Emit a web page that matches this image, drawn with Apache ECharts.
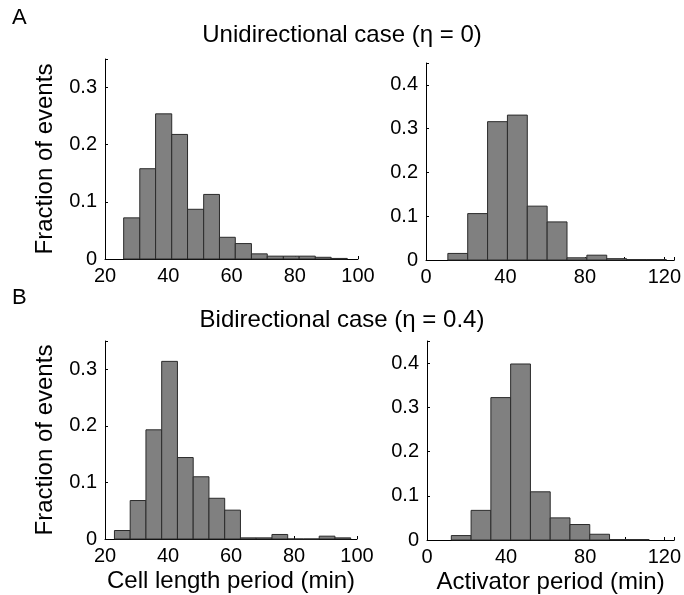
<!DOCTYPE html>
<html>
<head>
<meta charset="utf-8">
<script src="https://cdn.jsdelivr.net/npm/echarts@6/dist/echarts.min.js"></script>
<style>
  html, body { margin: 0; padding: 0; background: #fff; }
  #main { width: 684px; height: 595px; }
</style>
</head>
<body>
<div id="main"></div>
<script>
// bin edges (min) and fractions
var cellUniEdges = [25.9, 31.0, 36.0, 41.1, 46.1, 51.2, 56.2, 61.2, 66.3, 71.3, 76.4, 81.4, 86.5, 91.5, 96.6];
var cellUniFrac = [0.072, 0.158, 0.254, 0.218, 0.087, 0.113, 0.038, 0.027, 0.009, 0.005, 0.005, 0.005, 0.003, 0.001];

var actUniEdges = [11, 21, 31, 41, 51, 61, 71, 81, 91, 101, 111, 121];
var actUniFrac = [0.015, 0.106, 0.316, 0.331, 0.123, 0.087, 0.005, 0.011, 0.003, 0.001, 0.001];

var cellBiEdges = [23, 28, 33, 38, 43, 48, 53, 58, 63, 68, 73, 78, 83, 88, 93, 98];
var cellBiFrac = [0.015, 0.068, 0.193, 0.314, 0.144, 0.110, 0.072, 0.051, 0.002, 0.002, 0.008, 0, 0, 0.005, 0.002];

var actBiEdges = [12.3, 22.3, 32.3, 42.3, 52.3, 62.3, 72.3, 82.3, 92.3, 102.3, 112.3];
var actBiFrac = [0.010, 0.067, 0.322, 0.398, 0.109, 0.050, 0.035, 0.013, 0.001, 0.001];

var fontFam = "'Liberation Sans', Arial, sans-serif";

function toBins(edges, frac) {
    return frac.map(function (v, i) {
        return [edges[i], edges[i + 1], v];
    });
}

function histItem(params, api) {
    var p0 = api.coord([api.value(0), api.value(2)]);
    var p1 = api.coord([api.value(1), 0]);
    return {
        type: 'rect',
        shape: { x: p0[0], y: p0[1], width: p1[0] - p0[0], height: p1[1] - p0[1] },
        style: { fill: '#808080', stroke: '#2b2b2b', lineWidth: 1 }
    };
}

function xAx(idx, min, max, step, name) {
    return {
        type: 'value', gridIndex: idx, min: min, max: max, interval: 20,
        name: name || '', nameLocation: 'middle', nameGap: 30,
        nameTextStyle: { fontSize: 24, color: '#000', fontFamily: fontFam },
        axisLine: { lineStyle: { color: '#000', width: 1 } },
        axisTick: { inside: true, length: 3, lineStyle: { color: '#000' } },
        splitLine: { show: false },
        axisLabel: {
            fontSize: 20, color: '#000', fontFamily: fontFam, margin: 7,
            formatter: function (v) { return v % step === 0 ? String(v) : ''; }
        }
    };
}

function yAx(idx, max, name) {
    return {
        type: 'value', gridIndex: idx, min: 0, max: max, interval: 0.1,
        name: name || '', nameLocation: 'middle', nameGap: 48,
        nameTextStyle: { fontSize: 24, color: '#000', fontFamily: fontFam },
        axisLine: { show: true, lineStyle: { color: '#000', width: 1 } },
        axisTick: { show: true, inside: true, length: 3, lineStyle: { color: '#000' } },
        splitLine: { show: false },
        axisLabel: {
            fontSize: 20, color: '#000', fontFamily: fontFam, margin: 8,
            formatter: function (v) {
                var t = v * 10;
                return Math.abs(t - Math.round(t)) < 1e-6 ? String(+v.toFixed(1)) : '';
            }
        }
    };
}

var myChart = echarts.init(document.getElementById('main'));

var option = {
    backgroundColor: '#fff',
    animation: false,
    title: [
        { text: 'A', left: 7, top: 2, textStyle: { fontSize: 22, fontWeight: 'normal', color: '#000', fontFamily: fontFam } },
        { text: 'Unidirectional case (η = 0)', left: 'center', top: 18, textStyle: { fontSize: 24, fontWeight: 'normal', color: '#000', fontFamily: fontFam } },
        { text: 'B', left: 7, top: 282, textStyle: { fontSize: 22, fontWeight: 'normal', color: '#000', fontFamily: fontFam } },
        { text: 'Bidirectional case (η = 0.4)', left: 'center', top: 303, textStyle: { fontSize: 24, fontWeight: 'normal', color: '#000', fontFamily: fontFam } }
    ],
    grid: [
        { left: 105, top: 59, width: 253, height: 200 },
        { left: 426, top: 63, width: 250, height: 197 },
        { left: 105, top: 341, width: 252, height: 198 },
        { left: 427, top: 341, width: 255, height: 200 }
    ],
    xAxis: [
        xAx(0, 20, 100, 20),
        xAx(1, 0, 125, 40),
        xAx(2, 20, 100, 20, 'Cell length period (min)'),
        xAx(3, 0, 125, 40, 'Activator period (min)')
    ],
    yAxis: [
        yAx(0, 0.35, 'Fraction of events'),
        yAx(1, 0.45),
        yAx(2, 0.35, 'Fraction of events'),
        yAx(3, 0.45)
    ],
    series: [
        { type: 'custom', xAxisIndex: 0, yAxisIndex: 0, renderItem: histItem, data: toBins(cellUniEdges, cellUniFrac) },
        { type: 'custom', xAxisIndex: 1, yAxisIndex: 1, renderItem: histItem, data: toBins(actUniEdges, actUniFrac) },
        { type: 'custom', xAxisIndex: 2, yAxisIndex: 2, renderItem: histItem, data: toBins(cellBiEdges, cellBiFrac) },
        { type: 'custom', xAxisIndex: 3, yAxisIndex: 3, renderItem: histItem, data: toBins(actBiEdges, actBiFrac) }
    ]
};

myChart.setOption(option);
</script>
</body>
</html>
